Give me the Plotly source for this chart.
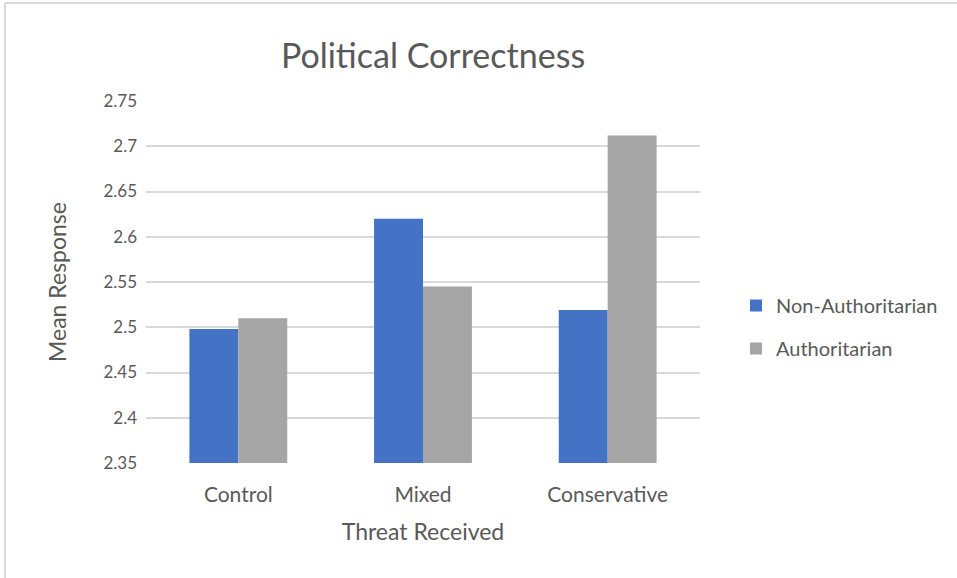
import plotly.graph_objects as go

# Mean response by threat condition and authoritarianism group
categories = ["Control", "Mixed", "Conservative"]
non_authoritarian = [2.498, 2.620, 2.519]
authoritarian = [2.510, 2.545, 2.712]
y_ticks = [2.35, 2.4, 2.45, 2.5, 2.55, 2.6, 2.65, 2.7, 2.75]
y_tick_text = ["2.35", "2.4", "2.45", "2.5", "2.55", "2.6", "2.65", "2.7", "2.75"]

W, H = 957, 578
L, R, T, B = 146, 257, 101, 115
pw, ph = W - L - R, H - T - B

font_family = "Lato, 'Open Sans', sans-serif"
text_color = "#595959"

fig = go.Figure()
fig.add_trace(go.Bar(x=categories, y=non_authoritarian, name="Non-Authoritarian",
                     legendgroup="a",
                     marker=dict(color="#4472C4", line=dict(width=0))))
fig.add_trace(go.Bar(x=categories, y=authoritarian, name="Authoritarian",
                     legendgroup="b",
                     marker=dict(color="#A5A5A5", line=dict(width=0))))


def px_x(x):
    return (x - L) / pw


def px_y(y):
    return (H - B - y) / ph


fig.update_layout(
    width=W, height=H,
    margin=dict(l=L, r=R, t=T, b=B, autoexpand=False),
    paper_bgcolor="white", plot_bgcolor="white",
    barmode="group", bargap=0.47, bargroupgap=0,
    font=dict(family=font_family, color=text_color),
    title=dict(text="Political Correctness", x=433 / W, xanchor="center",
               y=1 - 56 / H, yanchor="middle",
               font=dict(size=34, color=text_color, family=font_family)),
    xaxis=dict(showgrid=False, showline=False, ticks="",
               tickfont=dict(size=21, color=text_color),
               ticklabelstandoff=17,
               title=dict(text="Threat Received", font=dict(size=23, color=text_color),
                          standoff=18)),
    yaxis=dict(range=[2.35, 2.75], tickvals=y_ticks, ticktext=y_tick_text,
               showgrid=True, gridcolor="#D9D9D9", gridwidth=1.5,
               zeroline=False, showline=False, ticks="",
               tickfont=dict(size=17, color=text_color),
               ticklabelstandoff=8,
               title=dict(text="Mean Response", font=dict(size=23, color=text_color),
                          standoff=30)),
    legend=dict(x=px_x(736), y=px_y(286), xanchor="left", yanchor="top",
                font=dict(size=20, color=text_color), tracegroupgap=14,
                traceorder="grouped",
                itemwidth=30, bgcolor="rgba(0,0,0,0)"),
    shapes=[
        dict(type="line", xref="paper", yref="paper",
             x0=px_x(5), x1=px_x(W + 5), y0=px_y(3), y1=px_y(3),
             line=dict(color="#D9D9D9", width=2)),
        dict(type="line", xref="paper", yref="paper",
             x0=px_x(5), x1=px_x(5), y0=px_y(3), y1=px_y(H + 5),
             line=dict(color="#D9D9D9", width=2)),
    ],
)

fig.write_html("out.html")
